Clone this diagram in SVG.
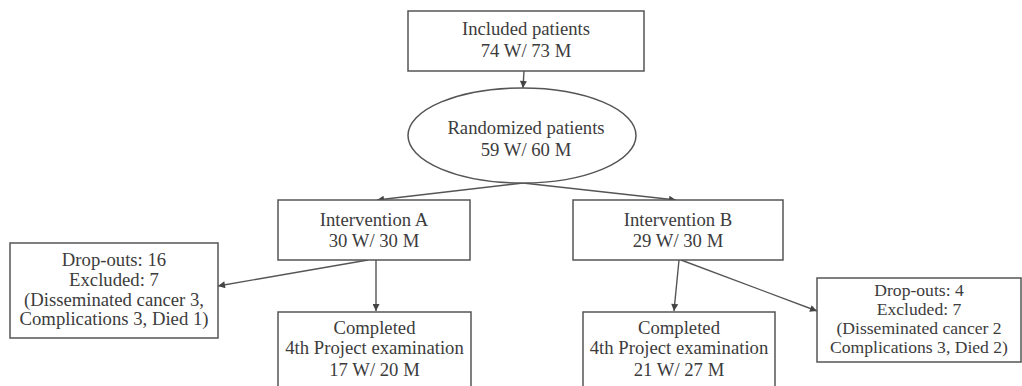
<svg xmlns="http://www.w3.org/2000/svg" width="1022" height="386" viewBox="0 0 1022 386">
<style>
.box{fill:#fff;stroke:#555;stroke-width:1.5}
.t{font-family:"Liberation Serif","Times New Roman",serif;font-size:18.7px;fill:#3c3c3c;text-anchor:middle}
.s{font-size:17.6px}
.c{stroke:#555;stroke-width:1.4;fill:none;marker-end:url(#ah)}
</style>
<defs>
<marker id="ah" viewBox="0 0 10 10" refX="10" refY="5" markerWidth="9" markerHeight="7" markerUnits="userSpaceOnUse" orient="auto">
<path d="M0,0 L10,5 L0,10 z" fill="#444"/>
</marker>
</defs>
<rect width="1022" height="386" fill="#fff"/>
<g id="connectors">
<line class="c" x1="524" y1="71" x2="523" y2="88"/>
<line class="c" x1="523" y1="183" x2="377" y2="200"/>
<line class="c" x1="523" y1="183" x2="676" y2="200"/>
<line class="c" x1="368" y1="260" x2="218" y2="286"/>
<line class="c" x1="376" y1="260" x2="376" y2="311"/>
<line class="c" x1="679" y1="260" x2="674" y2="311"/>
<line class="c" x1="681" y1="260" x2="817" y2="311"/>
</g>
<g id="included">
<rect class="box" x="408" y="11" width="236" height="60"/>
<text class="t" x="526" y="35">Included patients</text>
<text class="t" x="526" y="57">74 W/ 73 M</text>
</g>
<g id="randomized">
<ellipse class="box" cx="522" cy="135.5" rx="114" ry="47.5"/>
<text class="t" x="526" y="134">Randomized patients</text>
<text class="t" x="526" y="156">59 W/ 60 M</text>
</g>
<g id="interventionA">
<rect class="box" x="278" y="200" width="192" height="60"/>
<text class="t" x="374" y="226">Intervention A</text>
<text class="t" x="374" y="247">30 W/ 30 M</text>
</g>
<g id="interventionB">
<rect class="box" x="573" y="200" width="210" height="60"/>
<text class="t" x="678" y="226">Intervention B</text>
<text class="t" x="678" y="247">29 W/ 30 M</text>
</g>
<g id="dropoutsA">
<rect class="box" x="10" y="243" width="208" height="95"/>
<text class="t" x="114" y="266">Drop-outs: 16</text>
<text class="t" x="114" y="286">Excluded: 7</text>
<text class="t" x="114" y="306">(Disseminated cancer 3,</text>
<text class="t" x="114" y="325">Complications 3, Died 1)</text>
</g>
<g id="completedA">
<rect class="box" x="278" y="312" width="193" height="80"/>
<text class="t" x="374.5" y="334">Completed</text>
<text class="t" x="374.5" y="354">4th Project examination</text>
<text class="t" x="374.5" y="376">17 W/ 20 M</text>
</g>
<g id="completedB">
<rect class="box" x="583" y="312" width="192" height="80"/>
<text class="t" x="679" y="334">Completed</text>
<text class="t" x="679" y="354">4th Project examination</text>
<text class="t" x="679" y="376">21 W/ 27 M</text>
</g>
<g id="dropoutsB">
<rect class="box" x="817" y="278" width="204" height="84"/>
<text class="t s" x="919" y="296">Drop-outs: 4</text>
<text class="t s" x="919" y="315">Excluded: 7</text>
<text class="t s" x="919" y="334">(Disseminated cancer 2</text>
<text class="t s" x="919" y="353">Complications 3, Died 2)</text>
</g>
</svg>
